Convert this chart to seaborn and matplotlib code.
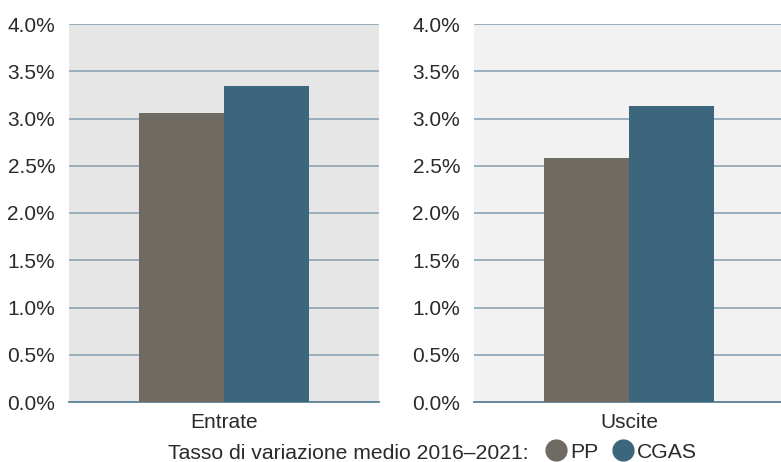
import pandas as pd
import matplotlib.pyplot as plt
import seaborn as sns
from matplotlib.lines import Line2D
from matplotlib.ticker import FuncFormatter

voci = ['Entrate', 'Uscite']
serie = ['PP', 'CGAS']
pp = [3.06, 2.58]
cgas = [3.34, 3.13]
colori = {'PP': '#6f6b63', 'CGAS': '#3b667b'}
sfondi = ['#e6e6e6', '#f2f2f2']

data = pd.DataFrame({
    'Voce': voci * 2,
    'Serie': ['PP'] * 2 + ['CGAS'] * 2,
    'Valore': pp + cgas,
})

sns.set_style('white')
plt.rcParams['font.family'] = ['Liberation Sans', 'DejaVu Sans']

fig = plt.figure(figsize=(7.81, 4.62), dpi=100)
axes = [fig.add_axes([69 / 781, 60 / 462, 310 / 781, 378 / 462]),
        fig.add_axes([474 / 781, 60 / 462, 310 / 781, 378 / 462])]

for ax, voce, bg in zip(axes, voci, sfondi):
    sub = data[data['Voce'] == voce]
    sns.barplot(data=sub, x='Voce', y='Valore', hue='Serie', hue_order=serie,
                palette=colori, width=0.55, gap=0, saturation=1, legend=False,
                linewidth=0, ax=ax, zorder=3)
    ax.set_facecolor(bg)
    ax.set_ylim(0, 4.0)
    ax.set_xlim(-0.5, 0.5)
    ax.set_yticks([i * 0.5 for i in range(9)])
    ax.yaxis.set_major_formatter(FuncFormatter(lambda v, p: f'{v:.1f}%'))
    ax.grid(axis='y', color='#93a9b8', linewidth=1.3, zorder=1)
    ax.set_axisbelow(True)
    for s in ['top', 'right', 'left']:
        ax.spines[s].set_visible(False)
    ax.spines['bottom'].set_color('#5f8299')
    ax.spines['bottom'].set_linewidth(1.3)
    ax.tick_params(axis='both', length=0, colors='#2a2a2a')
    ax.tick_params(axis='y', pad=10, labelsize=15)
    ax.tick_params(axis='x', pad=8, labelsize=15)
    ax.set_xlabel('')
    ax.set_ylabel('')

fig.text(528 / 781, 3 / 462, 'Tasso di variazione medio 2016\u20132021:', ha='right',
         va='baseline', fontsize=15.2, color='#2a2a2a')
handles = [Line2D([], [], marker='o', linestyle='', markersize=15,
                  markerfacecolor=colori[s], markeredgecolor=colori[s], label=s)
           for s in serie]
fig.legend(handles=handles, loc='center left', bbox_to_anchor=(546 / 781, 10 / 462),
           ncol=2, frameon=False, fontsize=15.2, handletextpad=0.19,
           columnspacing=0.7, borderaxespad=0, borderpad=0, handlelength=0.95,
           labelcolor='#2a2a2a')

fig.savefig('out.png', dpi=100)
